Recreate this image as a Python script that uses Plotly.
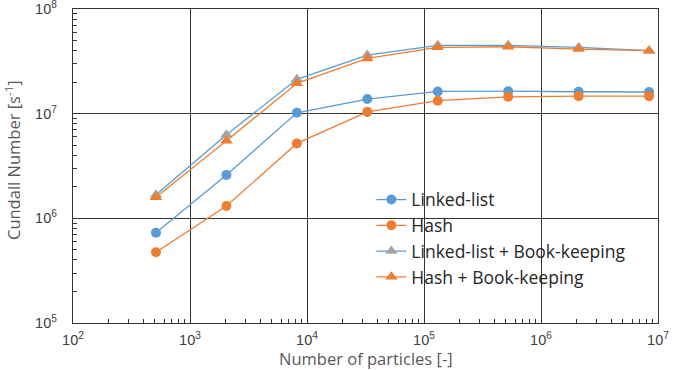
import plotly.graph_objects as go

particles = [512, 2048, 8192, 32768, 131072, 524288, 2097152, 8388608]
linked_list = [7.3e5, 2.6e6, 1.02e7, 1.38e7, 1.63e7, 1.64e7, 1.62e7, 1.61e7]
hash_ = [4.75e5, 1.31e6, 5.2e6, 1.04e7, 1.33e7, 1.45e7, 1.47e7, 1.47e7]
linked_list_bk = [1.68e6, 6.3e6, 2.13e7, 3.63e7, 4.5e7, 4.5e7, 4.3e7, 4.0e7]
hash_bk = [1.59e6, 5.5e6, 1.95e7, 3.37e7, 4.3e7, 4.36e7, 4.14e7, 4.0e7]

x_major = [1e2, 1e3, 1e4, 1e5, 1e6, 1e7]
x_labels = ["10<sup>2</sup>", "10<sup>3</sup>", "10<sup>4</sup>", "10<sup>5</sup>", "10<sup>6</sup>", "10<sup>7</sup>"]
y_major = [1e5, 1e6, 1e7, 1e8]
y_labels = ["10<sup>5</sup>", "10<sup>6</sup>", "10<sup>7</sup>", "10<sup>8</sup>"]

BLUE = "#5B9BD5"
ORANGE = "#ED7D31"
GREY = "#A5A5A5"
GRID = "#333333"

def minor_vals(lo, hi):
    vals = []
    for e in range(lo, hi):
        for m in range(2, 10):
            vals.append(m * 10 ** e)
    return vals

fig = go.Figure()
series = [
    ("Linked-list", linked_list, BLUE, BLUE, "circle", 10),
    ("Hash", hash_, ORANGE, ORANGE, "circle", 10),
    ("Linked-list + Book-keeping", linked_list_bk, BLUE, GREY, "triangle-up", 11),
    ("Hash + Book-keeping", hash_bk, ORANGE, ORANGE, "triangle-up", 11),
]
for i, (name, ys, lc, mc, sym, sz) in enumerate(series):
    fig.add_trace(go.Scatter(x=particles, y=ys, name=name, mode="lines+markers", legendgroup=str(i),
                             line=dict(color=lc, width=1.3),
                             marker=dict(symbol=sym, size=sz, color=mc)))

tick_font = dict(family="Liberation Sans, Arial, sans-serif", size=14.5, color="#404040")
title_font = dict(family="Open Sans, sans-serif", size=16.5, color="#595959")

fig.update_layout(
    width=677, height=370,
    margin=dict(l=73, r=19, t=9, b=47, autoexpand=False),
    paper_bgcolor="white", plot_bgcolor="white",
    font=dict(family="Open Sans, sans-serif", color="#404040"),
    showlegend=True,
    legend=dict(x=0.51, y=0.45, xanchor="left", yanchor="top", bgcolor="rgba(0,0,0,0)",
                font=dict(family="Open Sans, sans-serif", size=17.5, color="#262626"),
                traceorder="grouped", tracegroupgap=0, itemwidth=30),
    annotations=[
        dict(text="Number of particles [-]", xref="paper", yref="paper", x=0.5, y=-0.112,
             xanchor="center", yanchor="middle", showarrow=False, font=title_font),
        dict(text="Cundall Number [s<sup>-1</sup>]", xref="paper", yref="paper", x=-0.1026, y=0.519,
             xanchor="center", yanchor="middle", showarrow=False, textangle=-90, font=title_font),
    ],
)
fig.update_xaxes(
    type="log", range=[2, 7], tickmode="array", tickvals=x_major, ticktext=x_labels,
    showgrid=True, gridcolor=GRID, gridwidth=1.4, automargin=False,
    showline=True, linecolor=GRID, linewidth=1.4, mirror=True,
    ticks="", tickfont=tick_font, ticklabelstandoff=3, ticklabeloverflow="allow",
    minor=dict(tickmode="array", tickvals=minor_vals(2, 7), ticks="inside", ticklen=4,
               tickcolor=GRID, showgrid=False),
    zeroline=False,
)
fig.update_yaxes(
    type="log", range=[5, 8], tickmode="array", tickvals=y_major, ticktext=y_labels,
    showgrid=True, gridcolor=GRID, gridwidth=1.4, automargin=False,
    showline=True, linecolor=GRID, linewidth=1.4, mirror=True,
    ticks="", tickfont=tick_font, ticklabelstandoff=12, ticklabeloverflow="allow",
    minor=dict(tickmode="array", tickvals=minor_vals(5, 8), ticks="inside", ticklen=4,
               tickcolor=GRID, showgrid=False),
    zeroline=False,
)

fig.write_html("out.html")
